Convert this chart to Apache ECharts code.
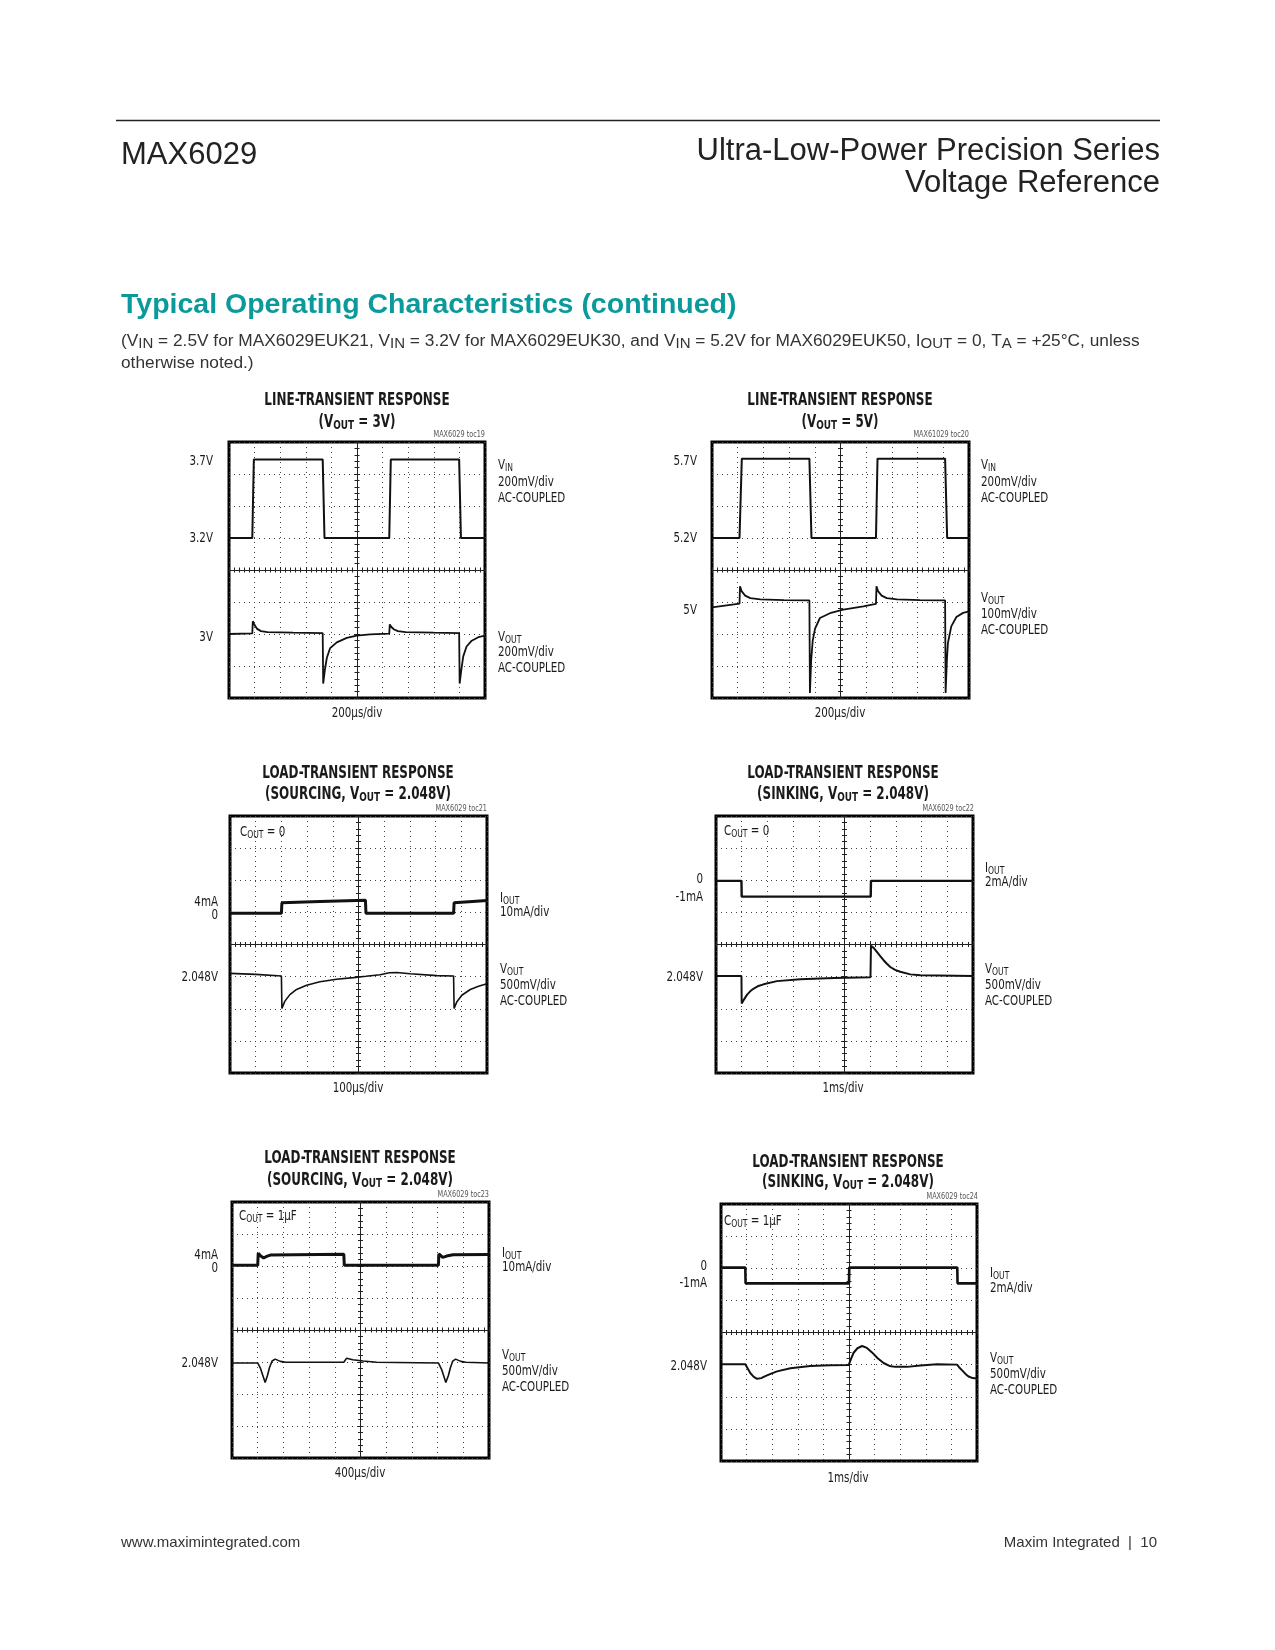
<!DOCTYPE html>
<html>
<head>
<meta charset="utf-8">
<title>MAX6029 - Typical Operating Characteristics</title>
<script src="https://cdn.jsdelivr.net/npm/echarts@6/dist/echarts.min.js"></script>
<style>
html, body { margin: 0; padding: 0; background: #fff; }
#page { width: 1275px; height: 1650px; }
</style>
</head>
<body>
<div id="page"></div>
<script>
// scope traces, in divisions:
// x = 0..10 div from the left edge, y = -4..4 div from the screen centre
var lineVin3 = [[0,1.0],[0.91,1.0],[0.97,3.45],[3.66,3.45],[3.73,1.0],[6.26,1.0],[6.32,3.45],[8.99,3.45],[9.06,1.0],[10,1.0]];
var lineVout3 = [[0,-2.0],[0.91,-1.98],[0.93,-1.6],[1.0,-1.72],[1.1,-1.84],[1.25,-1.91],[1.5,-1.94],[2.5,-1.96],[3.66,-1.97],[3.68,-3.55],[3.74,-3.15],[3.82,-2.75],[3.95,-2.44],[4.21,-2.26],[4.6,-2.12],[4.99,-2.05],[5.51,-2.01],[6.26,-1.99],[6.28,-1.7],[6.35,-1.79],[6.45,-1.86],[6.6,-1.91],[6.9,-1.94],[8.0,-1.96],[8.99,-1.97],[9.01,-3.55],[9.07,-3.15],[9.15,-2.7],[9.28,-2.39],[9.48,-2.21],[9.74,-2.1],[10,-2.05]];

var lineVin5 = [[0,1.0],[1.07,1.0],[1.16,3.48],[3.79,3.48],[3.87,1.0],[6.38,1.0],[6.44,3.48],[9.07,3.48],[9.15,1.0],[10,1.0]];
var lineVout5 = [[0,-1.17],[0.5,-1.11],[1.07,-1.05],[1.09,-0.51],[1.15,-0.66],[1.29,-0.8],[1.49,-0.88],[1.88,-0.92],[2.8,-0.94],[3.79,-0.95],[3.81,-3.84],[3.86,-2.8],[3.92,-2.2],[4.01,-1.83],[4.2,-1.5],[4.59,-1.35],[5.11,-1.24],[5.89,-1.14],[6.38,-1.06],[6.4,-0.51],[6.46,-0.66],[6.6,-0.8],[6.8,-0.88],[7.2,-0.92],[8.1,-0.94],[9.07,-0.95],[9.09,-3.84],[9.14,-2.8],[9.18,-2.28],[9.31,-1.76],[9.51,-1.47],[9.77,-1.34],[10,-1.29]];

var srcIout0 = [[0,0.97],[2.0,0.97],[2.02,1.3],[3.5,1.34],[5.27,1.38],[5.29,0.97],[8.7,0.97],[8.72,1.3],[10,1.37]];
var srcVout0 = [[0,-0.9],[1.0,-0.93],[2.0,-0.98],[2.02,-1.99],[2.13,-1.77],[2.33,-1.56],[2.59,-1.4],[2.98,-1.27],[3.5,-1.16],[4.15,-1.08],[4.8,-1.03],[5.29,-0.99],[5.84,-0.94],[6.2,-0.88],[6.49,-0.87],[7.01,-0.91],[8.05,-0.97],[8.7,-0.98],[8.72,-1.99],[8.83,-1.78],[9.02,-1.58],[9.35,-1.4],[9.67,-1.3],[10,-1.22]];

var sinkIout0 = [[0,1.98],[0.99,1.98],[1.0,1.49],[6.02,1.49],[6.03,1.98],[10,1.98]];
var sinkVout0 = [[0,-0.98],[0.99,-0.98],[1.0,-1.84],[1.1,-1.7],[1.21,-1.56],[1.34,-1.45],[1.47,-1.37],[1.65,-1.29],[1.85,-1.24],[2.37,-1.14],[3.28,-1.08],[4.58,-1.04],[6.01,-1.02],[6.03,-0.04],[6.15,-0.12],[6.26,-0.23],[6.39,-0.36],[6.52,-0.49],[6.65,-0.6],[6.78,-0.7],[6.97,-0.79],[7.17,-0.85],[7.56,-0.93],[7.95,-0.96],[10,-0.98]];

var srcIout1u = [[0,2.02],[1.0,2.02],[1.02,2.4],[1.12,2.31],[1.23,2.25],[1.35,2.3],[1.49,2.34],[4.35,2.37],[4.37,2.02],[8.03,2.02],[8.05,2.38],[8.2,2.27],[8.35,2.31],[8.6,2.35],[10,2.36]];
var srcVout1u = [[0,-1.03],[1.0,-1.03],[1.1,-1.18],[1.2,-1.42],[1.29,-1.64],[1.38,-1.42],[1.46,-1.17],[1.56,-0.97],[1.68,-0.91],[1.88,-0.98],[2.1,-1.01],[4.35,-1.01],[4.46,-0.88],[4.7,-0.93],[5.1,-0.97],[5.63,-1.01],[8.03,-1.03],[8.15,-1.22],[8.24,-1.44],[8.32,-1.64],[8.42,-1.42],[8.5,-1.17],[8.59,-0.97],[8.7,-0.91],[8.9,-0.98],[9.1,-1.01],[10,-1.03]];

var sinkIout1u = [[0,2.02],[0.95,2.02],[0.96,1.53],[5.0,1.53],[5.01,2.02],[9.23,2.02],[9.24,1.53],[10,1.53]];
var sinkVout1u = [[0,-0.99],[0.95,-0.99],[1.05,-1.13],[1.15,-1.27],[1.28,-1.38],[1.41,-1.44],[1.57,-1.42],[1.73,-1.36],[1.96,-1.28],[2.19,-1.21],[2.71,-1.11],[3.49,-1.04],[4.27,-1.02],[4.99,-1.01],[5.08,-0.82],[5.18,-0.63],[5.33,-0.49],[5.51,-0.42],[5.7,-0.48],[5.9,-0.62],[6.12,-0.8],[6.35,-0.95],[6.58,-1.04],[6.81,-1.07],[7.27,-1.07],[7.79,-1.03],[8.44,-0.99],[9.22,-1.0],[9.3,-1.08],[9.41,-1.17],[9.55,-1.29],[9.67,-1.37],[9.83,-1.42],[10,-1.43]];

// time base of each screen
var timeDiv = ['200µs/div', '200µs/div', '100µs/div', '1ms/div', '400µs/div', '1ms/div'];

var NARROW = "'Liberation Sans Narrow', 'DejaVu Sans Condensed', sans-serif";
var SANS = "'Liberation Sans', Arial, Helvetica, sans-serif";
var SQ = 0.85; // horizontal squeeze for the condensed chart lettering

// screens: box = [left, top, width, height], traces with line widths
var scopes = [
	{ box: [229, 442, 256, 256], traces: [[lineVin3, 2], [lineVout3, 1.8]] },
	{ box: [712, 442, 257, 256], traces: [[lineVin5, 2], [lineVout5, 1.8]] },
	{ box: [230, 816, 257, 257], traces: [[srcIout0, 3], [srcVout0, 1.6]] },
	{ box: [716, 816, 257, 257], traces: [[sinkIout0, 2.4], [sinkVout0, 2]] },
	{ box: [232, 1202, 257, 256], traces: [[srcIout1u, 3], [srcVout1u, 1.6]] },
	{ box: [721, 1204, 256, 257], traces: [[sinkIout1u, 2.6], [sinkVout1u, 2]] }
];

// texts round each screen
var scopeText = [
	{ cx: 357, ty: [400, 422], title: ['LINE-TRANSIENT RESPONSE', '(V{s|OUT} = 3V)'], toc: ['MAX6029 toc19', 485, 435],
	  lx: 213, left: [['3.7V', 461], ['3.2V', 538], ['3V', 637]],
	  rx: 498, right: [['V{s|IN}', 465], ['200mV/div', 482], ['AC-COUPLED', 498], ['V{s|OUT}', 637], ['200mV/div', 652], ['AC-COUPLED', 668]],
	  xy: 713 },
	{ cx: 840, ty: [400, 422], title: ['LINE-TRANSIENT RESPONSE', '(V{s|OUT} = 5V)'], toc: ['MAX61029 toc20', 969, 435],
	  lx: 697, left: [['5.7V', 461], ['5.2V', 538], ['5V', 610]],
	  rx: 981, right: [['V{s|IN}', 465], ['200mV/div', 482], ['AC-COUPLED', 498], ['V{s|OUT}', 598], ['100mV/div', 614], ['AC-COUPLED', 630]],
	  xy: 713 },
	{ cx: 358, ty: [773, 794], title: ['LOAD-TRANSIENT RESPONSE', '(SOURCING, V{s|OUT} = 2.048V)'], toc: ['MAX6029 toc21', 487, 809],
	  cout: ['C{s|OUT} = 0', 240, 832],
	  lx: 218, left: [['4mA', 902], ['0', 915], ['2.048V', 977]],
	  rx: 500, right: [['I{s|OUT}', 898], ['10mA/div', 912], ['V{s|OUT}', 969], ['500mV/div', 985], ['AC-COUPLED', 1001]],
	  xy: 1088 },
	{ cx: 843, ty: [773, 794], title: ['LOAD-TRANSIENT RESPONSE', '(SINKING, V{s|OUT} = 2.048V)'], toc: ['MAX6029 toc22', 974, 809],
	  cout: ['C{s|OUT} = 0', 724, 831],
	  lx: 703, left: [['0', 879], ['-1mA', 897], ['2.048V', 977]],
	  rx: 985, right: [['I{s|OUT}', 868], ['2mA/div', 882], ['V{s|OUT}', 969], ['500mV/div', 985], ['AC-COUPLED', 1001]],
	  xy: 1088 },
	{ cx: 360, ty: [1158, 1180], title: ['LOAD-TRANSIENT RESPONSE', '(SOURCING, V{s|OUT} = 2.048V)'], toc: ['MAX6029 toc23', 489, 1195],
	  cout: ['C{s|OUT} = 1µF', 239, 1216],
	  lx: 218, left: [['4mA', 1255], ['0', 1268], ['2.048V', 1363]],
	  rx: 502, right: [['I{s|OUT}', 1253], ['10mA/div', 1267], ['V{s|OUT}', 1355], ['500mV/div', 1371], ['AC-COUPLED', 1387]],
	  xy: 1473 },
	{ cx: 848, ty: [1162, 1182], title: ['LOAD-TRANSIENT RESPONSE', '(SINKING, V{s|OUT} = 2.048V)'], toc: ['MAX6029 toc24', 978, 1197],
	  cout: ['C{s|OUT} = 1µF', 724, 1221],
	  lx: 707, left: [['0', 1266], ['-1mA', 1283], ['2.048V', 1366]],
	  rx: 990, right: [['I{s|OUT}', 1273], ['2mA/div', 1288], ['V{s|OUT}', 1358], ['500mV/div', 1374], ['AC-COUPLED', 1390]],
	  xy: 1478 }
];

function txt(x, y, text, size, o) {
	o = o || {};
	var fam = o.fam || NARROW;
	var w = o.bold ? 'bold' : 'normal';
	var col = o.color || '#1a1a1a';
	var subSize = o.sub || Math.round(size * 0.75);
	return {
		type: 'text', x: x, y: y, scaleX: o.sx || 1, silent: true, z: 10,
		style: {
			text: text, align: o.align || 'left', verticalAlign: 'middle',
			fontSize: size, fontFamily: fam, fontWeight: w, fill: col, lineHeight: size + 3,
			rich: {
				s: { fontSize: subSize, fontFamily: fam, fontWeight: w, fill: col, lineHeight: subSize, verticalAlign: 'bottom' }
			}
		}
	};
}

var grids = [], xAxes = [], yAxes = [], series = [], graphics = [];

function axis(g, pos, split) {
	var vert = pos == 'left' || pos == 'right';
	return {
		gridIndex: g, type: 'value', min: vert ? -4 : -5, max: vert ? 4 : 5, interval: 1, position: pos,
		axisLine: { show: true, onZero: true, lineStyle: { color: '#222', width: 1 } },
		axisTick: { show: true, length: 3, lineStyle: { color: '#222', width: 1 } },
		minorTick: { show: true, splitNumber: 5, length: 2.5, lineStyle: { color: '#222', width: 1 } },
		axisLabel: { show: false },
		splitLine: { show: split, lineStyle: { color: '#444', width: 1, type: [1, 4] } },
		silent: true
	};
}

scopes.forEach(function (s, g) {
	grids.push({ left: s.box[0], top: s.box[1], width: s.box[2], height: s.box[3],
		show: true, borderColor: '#000', borderWidth: 3, backgroundColor: 'transparent' });
	xAxes.push(axis(g, 'bottom', true), axis(g, 'top', false));
	yAxes.push(axis(g, 'left', true), axis(g, 'right', false));
	s.traces.forEach(function (tr) {
		series.push({
			type: 'line', xAxisIndex: 2 * g, yAxisIndex: 2 * g, silent: true,
			showSymbol: false, symbol: 'none', z: 5,
			data: tr[0].map(function (p) { return [p[0] - 5, p[1]]; }),
			lineStyle: { color: '#111', width: tr[1] }
		});
	});
});

scopeText.forEach(function (c, g) {
	graphics.push(txt(c.cx, c.ty[0], c.title[0], 17.5, { bold: true, align: 'center', sx: 0.76 }));
	graphics.push(txt(c.cx, c.ty[1], c.title[1], 17.5, { bold: true, align: 'center', sx: 0.76, sub: 13 }));
	graphics.push(txt(c.toc[1], c.toc[2], c.toc[0], 8.5, { align: 'right', color: '#555', sx: SQ }));
	if (c.cout) graphics.push(txt(c.cout[1], c.cout[2], c.cout[0], 13.5, { sub: 10, sx: SQ }));
	c.left.forEach(function (l) { graphics.push(txt(c.lx, l[1], l[0], 13.5, { align: 'right', sx: SQ })); });
	c.right.forEach(function (l) { graphics.push(txt(c.rx, l[1], l[0], 13.5, { sub: 10, sx: SQ })); });
	graphics.push(txt(c.cx, c.xy, timeDiv[g], 13.5, { align: 'center', sx: SQ }));
});

// page header / footer
graphics.push({ type: 'line', silent: true, shape: { x1: 116, y1: 120.5, x2: 1160, y2: 120.5 }, style: { stroke: '#222', lineWidth: 1.5 } });
graphics.push(txt(121, 155, 'MAX6029', 31, { fam: SANS, color: '#222' }));
graphics.push(txt(1160, 151, 'Ultra-Low-Power Precision Series', 31, { fam: SANS, color: '#222', align: 'right' }));
graphics.push(txt(1160, 183, 'Voltage Reference', 31, { fam: SANS, color: '#222', align: 'right' }));
graphics.push(txt(121, 305, 'Typical Operating Characteristics (continued)', 28.5, { fam: SANS, bold: true, color: '#0b9a9c' }));
graphics.push(txt(121, 341, '(V{s|IN} = 2.5V for MAX6029EUK21, V{s|IN} = 3.2V for MAX6029EUK30, and V{s|IN} = 5.2V for MAX6029EUK50, I{s|OUT} = 0, T{s|A} = +25°C, unless', 17.3, { fam: SANS, color: '#333', sub: 15 }));
graphics.push(txt(121, 363, 'otherwise noted.)', 17.3, { fam: SANS, color: '#333' }));
graphics.push(txt(121, 1543, 'www.maximintegrated.com', 15, { fam: SANS, color: '#333' }));
graphics.push(txt(1157, 1543, 'Maxim Integrated  |  10', 15, { fam: SANS, color: '#333', align: 'right' }));

var myChart = echarts.init(document.getElementById('page'), null, { renderer: 'canvas' });
myChart.setOption({
	animation: false,
	backgroundColor: '#fff',
	grid: grids,
	xAxis: xAxes,
	yAxis: yAxes,
	series: series,
	graphic: { elements: graphics }
});
</script>
</body>
</html>
